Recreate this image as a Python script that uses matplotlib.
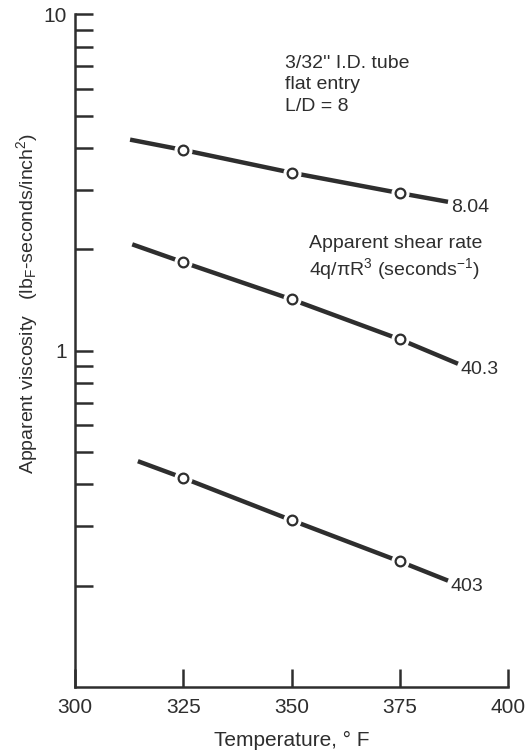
import matplotlib
matplotlib.use('Agg')
import matplotlib.pyplot as plt

plt.rcParams['font.family'] = ['Liberation Sans', 'DejaVu Sans']
plt.rcParams['mathtext.default'] = 'regular'

ink = '#2e2e2e'

# temperatures (deg F): drawn line start, measured points, drawn line end
temps = {
    '8.04': [312.7, 325, 350, 375, 386.1],
    '40.3': [313.2, 325, 350, 375, 388.4],
    '403':  [314.5, 325, 350, 375, 386.1],
}
# apparent viscosity (lbF-s/in^2)
visc = {
    '8.04': [4.24, 3.95, 3.38, 2.94, 2.77],
    '40.3': [2.07, 1.83, 1.42, 1.08, 0.914],
    '403':  [0.469, 0.418, 0.313, 0.236, 0.207],
}
xticks = [300, 325, 350, 375, 400]
yticks = [1, 10]
yminor = [0.2, 0.3, 0.4, 0.5, 0.6, 0.7, 0.8, 0.9, 2, 3, 4, 5, 6, 7, 8, 9]

fig = plt.figure(figsize=(5.25, 7.54), dpi=100)
ax = fig.add_axes([0.143, 0.089, 0.825, 0.892])

for rate in temps:
    t = temps[rate]
    v = visc[rate]
    ax.plot(t, v, color=ink, lw=3.2, solid_capstyle='butt', zorder=2)
    # white halo so the line stops short of each circle
    ax.plot(t[1:4], v[1:4], ls='none', marker='o', ms=12,
            mfc='white', mec='white', zorder=3)
    ax.plot(t[1:4], v[1:4], ls='none', marker='o', ms=7,
            mfc='white', mec=ink, mew=1.6, zorder=4)
    ax.annotate(rate, (t[-1], v[-1]), xytext=(2, -4), textcoords='offset points',
                ha='left', va='center', fontsize=14, color=ink)

ax.set_yscale('log')
ax.set_xlim(300, 400)
ax.set_ylim(0.1, 10)
ax.set_xticks(xticks)
ax.set_xticklabels([str(x) for x in xticks])
ax.set_yticks(yticks)
ax.set_yticklabels(['1', '10'])
ax.set_yticks(yminor, minor=True)
ax.yaxis.set_minor_formatter(matplotlib.ticker.NullFormatter())

for s in ['top', 'right']:
    ax.spines[s].set_visible(False)
for s in ['left', 'bottom']:
    ax.spines[s].set_linewidth(1.8)
    ax.spines[s].set_color(ink)

ax.tick_params(axis='both', which='both', direction='in', length=13, width=1.8,
               color=ink, labelcolor=ink, labelsize=15)
ax.tick_params(axis='x', pad=8)
ax.tick_params(axis='y', pad=6)

ax.set_xlabel('Temperature, \u00b0 F', fontsize=15, color=ink, labelpad=10)
ax.set_ylabel('Apparent viscosity   (lb$_F$-seconds/inch$^2$)', fontsize=14,
              color=ink)
ax.yaxis.set_label_coords(-0.08, 0.57)

ax.text(0.485, 0.94, "3/32'' I.D. tube\nflat entry\nL/D = 8", transform=ax.transAxes,
        fontsize=14, color=ink, va='top', ha='left', linespacing=1.35)
ax.text(0.54, 0.672, 'Apparent shear rate\n4q/$\\pi$R$^3$ (seconds$^{-1}$)',
        transform=ax.transAxes, fontsize=14, color=ink, va='top', ha='left',
        linespacing=1.2)

plt.savefig('out.png', dpi=100)
plt.close()
